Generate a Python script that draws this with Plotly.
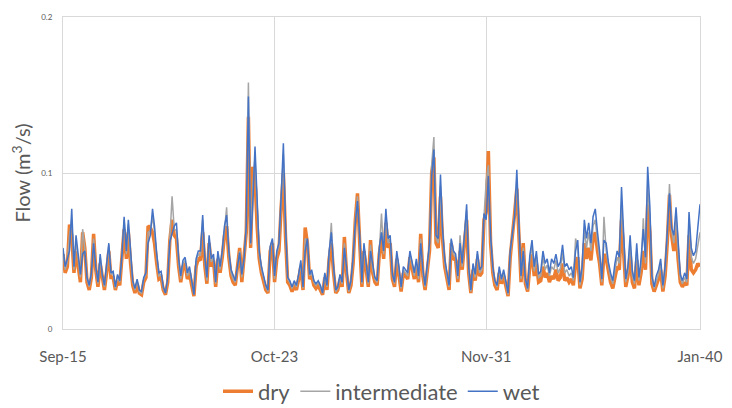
import pandas as pd
import plotly.graph_objects as go

# monthly flow, Sep 2015 .. Jan 2040, in thousandths of m3/s
months = pd.date_range("2015-09-01", "2040-01-01", freq="MS")

wet_milli = [
    52, 40, 45, 50, 77, 40, 60, 45, 35, 48,
    50, 33, 28, 36, 55, 40, 30, 48, 35, 28,
    40, 55, 36, 37, 27, 35, 31, 47, 72, 50,
    70, 47, 31, 26, 32, 25, 24, 33, 36, 55,
    60, 77, 66, 48, 36, 37, 27, 23, 33, 56,
    62, 66, 68, 45, 34, 44, 46, 36, 40, 32,
    22, 45, 50, 50, 73, 45, 33, 60, 45, 48,
    30, 50, 40, 50, 66, 73, 50, 38, 34, 31,
    40, 49, 35, 45, 66, 149, 55, 80, 117, 85,
    50, 40, 34, 28, 25, 53, 58, 34, 50, 55,
    85, 119, 68, 33, 31, 27, 31, 28, 35, 44,
    27, 50, 58, 35, 38, 31, 29, 31, 28, 23,
    36, 28, 50, 62, 40, 25, 27, 35, 30, 52,
    40, 25, 31, 46, 68, 82, 60, 30, 55, 43,
    30, 50, 40, 33, 31, 52, 62, 50, 77, 58,
    60, 35, 30, 50, 40, 27, 40, 38, 36, 50,
    42, 36, 45, 34, 55, 38, 28, 40, 55, 98,
    115, 60, 58, 99, 65, 45, 36, 28, 58, 50,
    48, 34, 55, 42, 60, 80, 40, 25, 42, 35,
    50, 38, 40, 74, 70, 98, 60, 40, 31, 28,
    40, 32, 38, 30, 23, 50, 63, 72, 102, 70,
    34, 50, 32, 26, 47, 57, 40, 50, 35, 37,
    50, 42, 45, 36, 45, 42, 48, 40, 43, 54,
    40, 42, 38, 40, 33, 50, 57, 30, 40, 70,
    58, 68, 55, 72, 77, 62, 50, 32, 57, 55,
    43, 36, 31, 42, 50, 46, 91, 60, 32, 40,
    60, 37, 31, 55, 33, 45, 64, 46, 104, 78,
    34, 27, 34, 38, 45, 28, 40, 62, 87, 65,
    60, 78, 55, 35, 31, 36, 32, 75, 52, 47,
    50, 65, 80,
]

dry_milli = [
    48, 36, 40, 67, 60, 36, 50, 40, 30, 62,
    52, 30, 25, 33, 61, 38, 27, 42, 32, 25,
    36, 50, 33, 33, 25, 31, 28, 44, 64, 45,
    62, 42, 28, 23, 29, 23, 22, 30, 33, 66,
    65, 62, 55, 42, 32, 33, 25, 22, 30, 57,
    70, 60, 58, 40, 30, 40, 42, 32, 36, 28,
    21, 40, 45, 44, 62, 40, 29, 55, 40, 44,
    27, 45, 36, 46, 60, 66, 46, 34, 30, 28,
    38, 52, 30, 44, 62, 136, 52, 104, 96, 65,
    45, 36, 30, 25, 23, 50, 55, 30, 45, 50,
    78, 100, 60, 30, 28, 24, 28, 25, 32, 40,
    25, 65, 55, 32, 34, 28, 26, 28, 25, 22,
    33, 25, 45, 55, 36, 23, 25, 32, 27, 59,
    36, 23, 28, 42, 70, 87, 55, 27, 50, 40,
    27, 57, 36, 30, 28, 48, 58, 45, 68, 52,
    55, 32, 27, 45, 36, 24, 36, 34, 32, 46,
    38, 32, 40, 30, 61, 34, 25, 36, 50, 100,
    110, 55, 52, 85, 58, 40, 32, 25, 55, 45,
    44, 30, 50, 38, 55, 70, 36, 23, 38, 31,
    45, 34, 36, 70, 75, 114, 55, 36, 28, 25,
    36, 29, 34, 27, 21, 46, 58, 74, 90, 60,
    30, 55, 29, 24, 40, 48, 34, 42, 30, 31,
    40, 33, 36, 30, 34, 32, 38, 31, 33, 42,
    31, 33, 30, 32, 28, 42, 46, 26, 32, 55,
    45, 52, 44, 58, 62, 50, 42, 28, 48, 45,
    36, 30, 26, 34, 40, 38, 70, 48, 27, 34,
    48, 30, 26, 44, 28, 36, 50, 38, 80, 62,
    29, 24, 28, 32, 38, 24, 34, 55, 86, 60,
    50, 65, 45, 30, 27, 30, 28, 60, 38, 36,
    38, 42, 40,
]

intermediate_milli = [
    50, 38, 43, 60, 70, 38, 56, 43, 33, 64,
    52, 32, 27, 35, 58, 39, 29, 46, 34, 27,
    38, 54, 35, 36, 26, 34, 30, 46, 70, 48,
    67, 45, 30, 25, 31, 24, 23, 32, 35, 62,
    63, 72, 62, 46, 34, 35, 26, 23, 32, 58,
    85, 64, 63, 43, 32, 42, 44, 34, 38, 30,
    22, 43, 48, 47, 70, 43, 31, 58, 43, 46,
    29, 48, 38, 48, 65, 78, 48, 36, 32, 30,
    39, 50, 33, 45, 64, 158, 54, 92, 110, 78,
    48, 38, 32, 27, 24, 52, 57, 32, 48, 53,
    82, 112, 64, 32, 30, 26, 30, 27, 34, 42,
    26, 58, 57, 34, 36, 30, 28, 30, 27, 23,
    35, 27, 48, 68, 38, 24, 26, 34, 29, 55,
    38, 24, 30, 44, 70, 85, 58, 29, 53, 42,
    29, 54, 38, 32, 30, 50, 74, 48, 73, 55,
    58, 34, 29, 48, 38, 26, 38, 36, 34, 48,
    40, 34, 43, 32, 58, 36, 27, 38, 53, 105,
    123, 58, 55, 92, 62, 43, 34, 27, 57, 48,
    46, 32, 60, 40, 58, 76, 38, 24, 40, 33,
    48, 36, 38, 72, 95, 105, 58, 38, 30, 27,
    38, 31, 36, 29, 22, 48, 60, 73, 96, 66,
    32, 52, 31, 25, 44, 53, 37, 46, 33, 34,
    46, 38, 41, 34, 40, 38, 44, 36, 39, 49,
    36, 38, 34, 36, 31, 58, 52, 28, 36, 64,
    52, 62, 50, 66, 70, 56, 46, 30, 72, 50,
    40, 33, 29, 38, 46, 42, 80, 55, 30, 37,
    55, 34, 29, 50, 31, 41, 71, 42, 92, 70,
    32, 26, 31, 35, 42, 26, 37, 59, 93, 63,
    55, 72, 50, 33, 29, 33, 30, 70, 46, 42,
    45, 55, 62,
]

tick_dates = ["2015-09-01", "2023-10-01", "2031-11-01", "2040-01-01"]
tick_text = ["Sep-15", "Oct-23", "Nov-31", "Jan-40"]

font = "Lato, 'Open Sans', sans-serif"
grey = "#595959"
grid = "#d9d9d9"

fig = go.Figure()

series = [
    ("dry", dry_milli, "#ED7D31", 3.5),
    ("intermediate", intermediate_milli, "#A5A5A5", 1.5),
    ("wet", wet_milli, "#4472C4", 1.5),
]
for name, vals, color, width in series:
    fig.add_trace(
        go.Scatter(
            x=months,
            y=[v / 1000 for v in vals],
            name=name,
            mode="lines",
            line=dict(color=color, width=width),
        )
    )

# the page body adds an 8px offset, so the figure is 8px smaller than the window
fig.update_layout(
    width=724,
    height=400,
    margin=dict(l=55, r=32, t=9, b=79, autoexpand=False),
    paper_bgcolor="white",
    plot_bgcolor="white",
    font=dict(family=font, color=grey),
    showlegend=True,
    legend=dict(
        orientation="h",
        x=0.5,
        xanchor="center",
        y=-0.2,
        yanchor="middle",
        font=dict(size=22, color=grey),
        itemwidth=30,
        tracegroupgap=0,
    ),
)

fig.update_xaxes(
    range=["2015-09-01", "2040-01-01"],
    tickvals=tick_dates,
    ticktext=tick_text,
    tickfont=dict(size=15, color=grey),
    ticks="outside",
    ticklen=14,
    tickcolor="rgba(0,0,0,0)",
    showgrid=True,
    gridcolor=grid,
    gridwidth=1,
    showline=True,
    linecolor=grid,
    linewidth=1,
    mirror=True,
    zeroline=False,
    automargin=False,
)

fig.update_yaxes(
    range=[0, 0.2],
    tickvals=[0, 0.1, 0.2],
    ticktext=["0", "0.1", "0.2"],
    tickfont=dict(size=8, color=grey),
    ticks="outside",
    ticklen=8,
    tickcolor="rgba(0,0,0,0)",
    showgrid=True,
    gridcolor=grid,
    gridwidth=1,
    showline=True,
    linecolor=grid,
    linewidth=1,
    mirror=True,
    zeroline=False,
    automargin=False,
    title=dict(text="Flow (m<sup>3</sup>/s)", font=dict(size=20, color=grey), standoff=5),
)

fig.write_html("out.html")
